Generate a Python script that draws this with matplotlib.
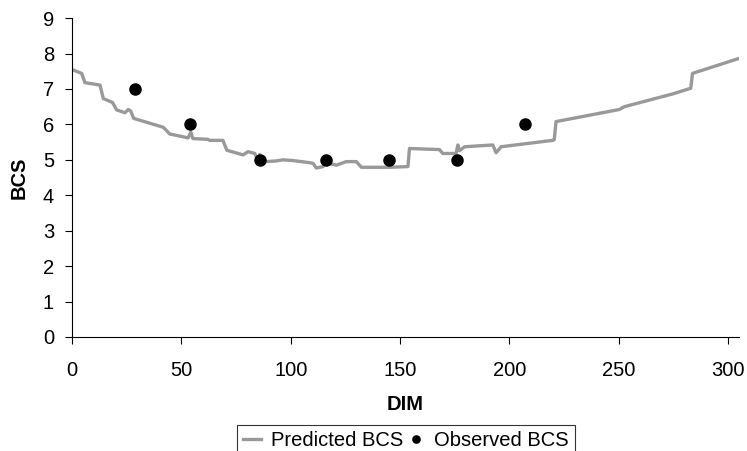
import matplotlib.pyplot as plt

plt.rcParams['font.family'] = ['Liberation Sans', 'DejaVu Sans']

# Predicted BCS (step-like curve)
dim_pred = [0, 4.4, 5.9, 12.8, 14.3, 18.5, 20.4, 24.2, 25.7, 26.8, 28.2, 41.7,
            44.7, 53.1, 54.3, 55.3, 62.0, 63.0, 69.0, 70.8, 78.2, 80.5, 83.6, 85.0, 85.8,
            86.6, 88.9, 93.5, 96.5, 101.0, 108.7, 110.2, 111.7, 114.8, 116.3,
            117.5, 120.9, 125.4, 130.0, 132.3, 145.2, 153.6, 154.3, 168.0,
            169.5, 175.6, 176.4, 177.2, 179.5, 192.4, 193.9, 196.2, 219.8,
            220.5, 221.3, 250.2, 252.5, 274.6, 282.9, 283.7, 304.3]
bcs_pred = [7.55, 7.44, 7.18, 7.11, 6.73, 6.62, 6.41, 6.33, 6.42, 6.38, 6.17, 5.92,
            5.73, 5.62, 5.78, 5.60, 5.58, 5.55, 5.55, 5.27, 5.14, 5.23, 5.18, 4.97, 5.15,
            4.96, 4.95, 4.97, 5.00, 4.98, 4.92, 4.90, 4.77, 4.81, 5.08,
            4.90, 4.85, 4.95, 4.95, 4.79, 4.79, 4.81, 5.32, 5.29,
            5.18, 5.18, 5.42, 5.26, 5.37, 5.42, 5.20, 5.37, 5.55,
            5.57, 6.08, 6.42, 6.50, 6.86, 7.02, 7.44, 7.85]

# Observed BCS
dim_obs = [29, 54, 86, 116, 145, 176, 207]
bcs_obs = [7, 6, 5, 5, 5, 5, 6]

fig = plt.figure(figsize=(7.47, 4.51), dpi=100)
ax = fig.add_axes([0.0964, 0.2528, 0.893, 0.707])

ax.plot(dim_pred, bcs_pred, color='#999999', lw=2.4, label='Predicted BCS')
ax.plot(dim_obs, bcs_obs, 'o', color='black', ms=8, label='Observed BCS')

ax.set_xlim(0, 305)
ax.set_ylim(0, 9)
ax.set_xticks(range(0, 301, 50))
ax.set_yticks(range(0, 10))
ax.spines['top'].set_visible(False)
ax.spines['right'].set_visible(False)
ax.tick_params(direction='out', length=5, labelsize=14.5)
ax.tick_params(axis='x', pad=12)
ax.tick_params(axis='y', pad=8)
ax.set_xlabel('DIM', fontsize=14.5, fontweight='bold', labelpad=11)
ax.set_ylabel('BCS', fontsize=14.5, fontweight='bold', labelpad=10)

leg = fig.legend(loc='upper center', bbox_to_anchor=(0.5435, 0.0576), ncol=2,
                 fontsize=14.5, frameon=True, fancybox=False, edgecolor='black',
                 handlelength=0.9, handletextpad=0.45, columnspacing=0.2,
                 borderpad=0.3, borderaxespad=0, markerscale=0.65)
leg.get_frame().set_linewidth(0.8)

plt.savefig('out.png', dpi=100)
